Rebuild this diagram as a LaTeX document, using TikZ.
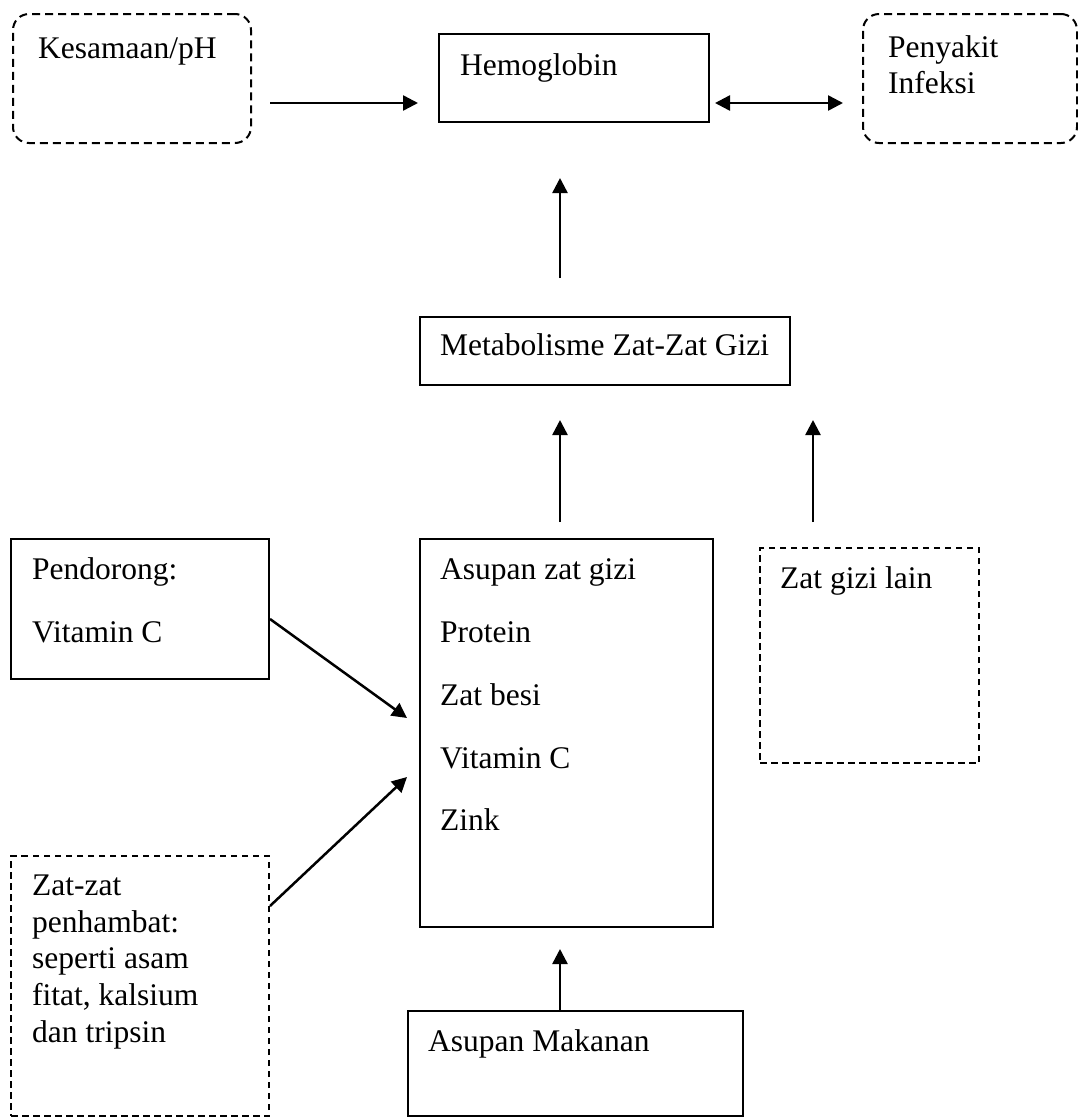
\documentclass[tikz,border=0pt]{standalone}
\usepackage{fontspec}
\setmainfont{Liberation Serif}
\usetikzlibrary{arrows.meta}
\begin{document}
\begin{tikzpicture}[x=1pt,y=-1pt,
  box/.style={draw, line width=2pt, rectangle, anchor=north west, inner sep=0pt},
  dbox/.style={box, dash pattern=on 6.5pt off 4.5pt},
  rbox/.style={box, dash pattern=on 8pt off 5pt, rounded corners=16pt},
  txt/.style={anchor=base west, inner sep=0pt, font=\fontsize{31.5}{37}\selectfont},
  arr/.style={line width=2.5pt, -{Triangle[length=15pt,width=15pt]}},
  darr/.style={line width=2.5pt, {Triangle[length=15pt,width=15pt]}-{Triangle[length=15pt,width=15pt]}}
]
\useasboundingbox (0,0) rectangle (1078,1117);
\coordinate (rowA) at (0,103);
\coordinate (colA) at (560,0);
\coordinate (colB) at (813,0);

% boxes
\node[rbox, minimum width=238pt, minimum height=129pt] (kes) at (12,13) {};
\node[box, minimum width=270pt, minimum height=88pt] (hem) at (438,33) {};
\node[rbox, minimum width=214pt, minimum height=129pt] (pen) at (862,13) {};
\node[box, minimum width=370pt, minimum height=68pt] (meta) at (419,316) {};
\node[box, minimum width=293pt, minimum height=388pt] (asu) at (419,538) {};
\node[dbox, minimum width=219pt, minimum height=215pt] (lain) at (759,547) {};
\node[box, minimum width=258pt, minimum height=140pt] (pend) at (10,538) {};
\node[dbox, minimum width=258pt, minimum height=260pt] (hamb) at (10,855) {};
\node[box, minimum width=335pt, minimum height=105pt] (mak) at (407,1010) {};

% texts
\node[txt] (tkes) at (38,58) {Kesamaan/pH};
\node[txt] (themo) at (460,75) {Hemoglobin};
\node[txt] (tpen1) at (888,57) {Penyakit};
\node[txt] (tpen2) at (888,93) {Infeksi};
\node[txt] (tmeta) at (440,355) {Metabolisme Zat-Zat Gizi};
\node[txt] (tasu1) at (440,579) {Asupan zat gizi};
\node[txt] (tasu2) at (440,642) {Protein};
\node[txt] (tasu3) at (440,705) {Zat besi};
\node[txt] (tasu4) at (440,768) {Vitamin C};
\node[txt] (tasu5) at (440,830) {Zink};
\node[txt] (tlain) at (780,588) {Zat gizi lain};
\node[txt] (tpend1) at (32,579) {Pendorong:};
\node[txt] (tpend2) at (32,642) {Vitamin C};
\node[txt] (thamb1) at (32,895) {Zat-zat};
\node[txt] (thamb2) at (32,932) {penhambat:};
\node[txt] (thamb3) at (32,968) {seperti asam};
\node[txt] (thamb4) at (32,1005) {fitat, kalsium};
\node[txt] (thamb5) at (32,1042) {dan tripsin};
\node[txt] (tmak) at (428,1051) {Asupan Makanan};

% connectors
\draw[arr, shorten <=18pt, shorten >=20pt] (kes.east |- rowA) -- (hem.west |- rowA);
\draw[darr, shorten <=5pt, shorten >=19pt] (hem.east |- rowA) -- (pen.west |- rowA);
\draw[arr, shorten <=38pt, shorten >=55pt] (meta.north -| colA) -- (hem.south -| colA);
\draw[arr, shorten <=16pt, shorten >=34pt] (asu.north -| colA) -- (meta.south -| colA);
\draw[arr, shorten <=25pt, shorten >=34pt] (lain.north -| colB) -- (meta.south -| colB);
\draw[arr, shorten >=21pt] (mak.north -| colA) -- (asu.south -| colA);
\draw[arr] ([yshift=-10pt]pend.east) -- ([xshift=-12pt,yshift=15pt]asu.west);
\draw[arr] ([yshift=-51pt]hamb.north east) -- ([xshift=-12pt,yshift=-44pt]asu.west);
\end{tikzpicture}
\end{document}
